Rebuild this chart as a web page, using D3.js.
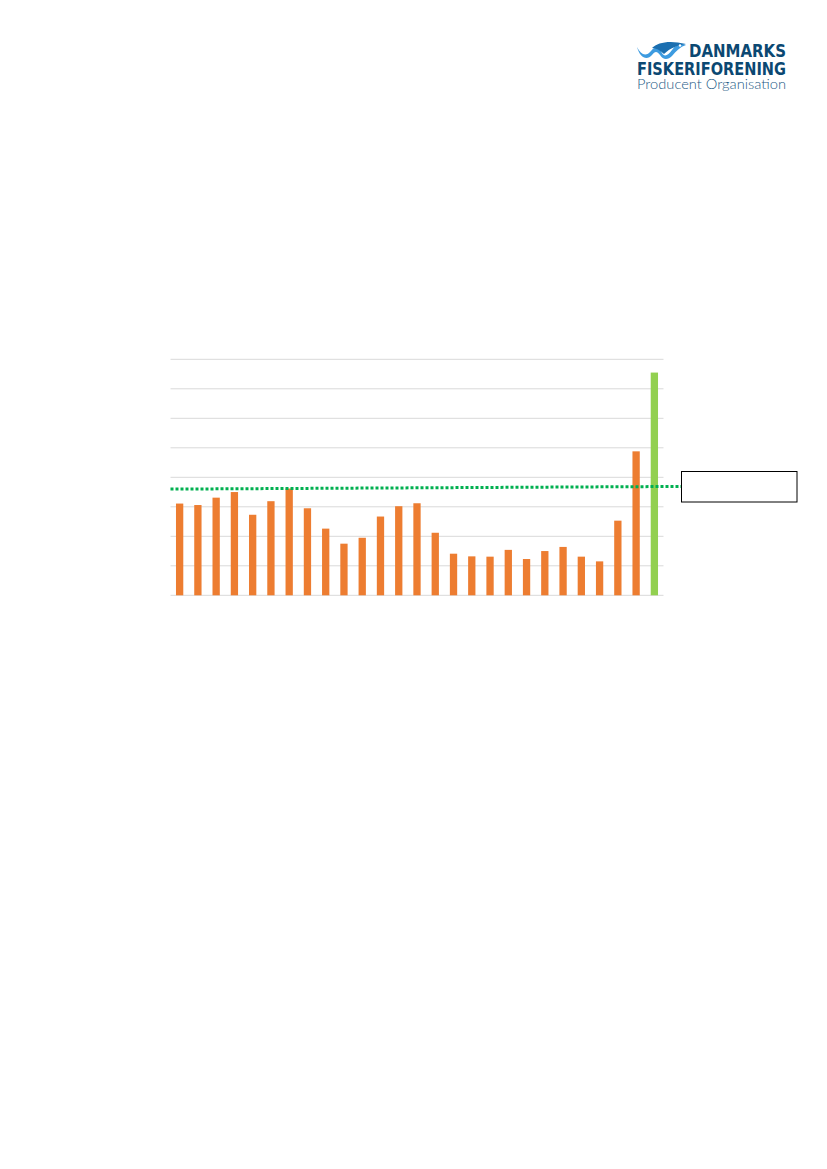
<!DOCTYPE html>
<html>
<head>
<meta charset="utf-8">
<script src="https://d3js.org/d3.v7.min.js"></script>
<style>
  body { margin: 0; background: #fff; }
</style>
</head>
<body>
<svg id="canvas" width="827" height="1169"></svg>
<script>
  // bar values (grid units, 0..8)
  const categories = d3.range(1, 28).map(String);
  const values = [3.11, 3.06, 3.31, 3.50, 2.73, 3.19, 3.62, 2.95, 2.26, 1.75,
                  1.95, 2.67, 3.02, 3.12, 2.12, 1.41, 1.32, 1.31, 1.54, 1.23,
                  1.50, 1.64, 1.31, 1.15, 2.53, 4.88, 7.55];
  const gridTicks = [0, 1, 2, 3, 4, 5, 6, 7, 8];
  const trendValues = [3.60, 3.69];   // dotted line, left and right ends

  const svg = d3.select("#canvas");

  const x = d3.scaleBand().domain(categories).range([170.5, 663.5]).paddingInner(0.6).paddingOuter(0.3);
  const y = d3.scaleLinear().domain([0, 8]).range([595.3, 359.3]);

  // gridlines
  svg.append("g")
    .selectAll("line")
    .data(gridTicks)
    .join("line")
    .attr("x1", 170.5)
    .attr("x2", 663.5)
    .attr("y1", d => y(d))
    .attr("y2", d => y(d))
    .attr("stroke", "#d9d9d9")
    .attr("stroke-width", 1);

  // bars
  svg.append("g")
    .selectAll("rect")
    .data(values)
    .join("rect")
    .attr("x", (d, i) => x(categories[i]))
    .attr("width", x.bandwidth())
    .attr("y", d => y(d))
    .attr("height", d => y(0) - y(d))
    .attr("fill", (d, i) => i === values.length - 1 ? "#92d050" : "#ed7d31");

  // dotted trend line, runs on to the empty box
  const tx = d3.scaleLinear().domain([0, 1]).range([170.5, 681]);
  svg.append("line")
    .attr("x1", tx(0))
    .attr("x2", tx(1))
    .attr("y1", y(trendValues[0]))
    .attr("y2", y(trendValues[1]))
    .attr("stroke", "#00b050")
    .attr("stroke-width", 3)
    .attr("stroke-dasharray", "3 2");

  // empty label box
  svg.append("rect")
    .attr("x", 681.5)
    .attr("y", 471.5)
    .attr("width", 115.5)
    .attr("height", 30.5)
    .attr("fill", "#fff")
    .attr("stroke", "#000")
    .attr("stroke-width", 1);

  // logo
  const logo = svg.append("g");
  logo.append("path")
    .attr("d", "M637,47 C641,55 646,57 651,51 C655,46 659,47 662,53 C664,57 668,56 672,50 C676,44 682,43 686,45 C680,47 676,51 672,56 C668,60 663,60 660,55 C657,51 655,51 652,55 C647,61 640,58 637,47 Z")
    .attr("fill", "#3d9be0");
  logo.append("path")
    .attr("d", "M652,48 C658,42 670,40 686,44 C678,45 670,48 664,54 C660,50 656,48 652,48 Z")
    .attr("fill", "#1b6fb0");
  logo.append("circle").attr("cx", 680).attr("cy", 45.5).attr("r", 1.2).attr("fill", "#fff");

  logo.append("text")
    .attr("x", 689).attr("y", 57)
    .attr("textLength", 97).attr("lengthAdjust", "spacingAndGlyphs")
    .attr("font-family", "DejaVu Sans").attr("font-weight", "bold").attr("font-size", 17)
    .attr("fill", "#0b4872")
    .text("DANMARKS");
  logo.append("text")
    .attr("x", 637).attr("y", 74.5)
    .attr("textLength", 149).attr("lengthAdjust", "spacingAndGlyphs")
    .attr("font-family", "DejaVu Sans").attr("font-weight", "bold").attr("font-size", 17)
    .attr("fill", "#0b4872")
    .text("FISKERIFORENING");
  logo.append("text")
    .attr("x", 637).attr("y", 89)
    .attr("textLength", 149).attr("lengthAdjust", "spacingAndGlyphs")
    .attr("font-family", "Lato").attr("font-weight", 300).attr("font-size", 13)
    .attr("fill", "#1d5a86")
    .text("Producent Organisation");
</script>
</body>
</html>
